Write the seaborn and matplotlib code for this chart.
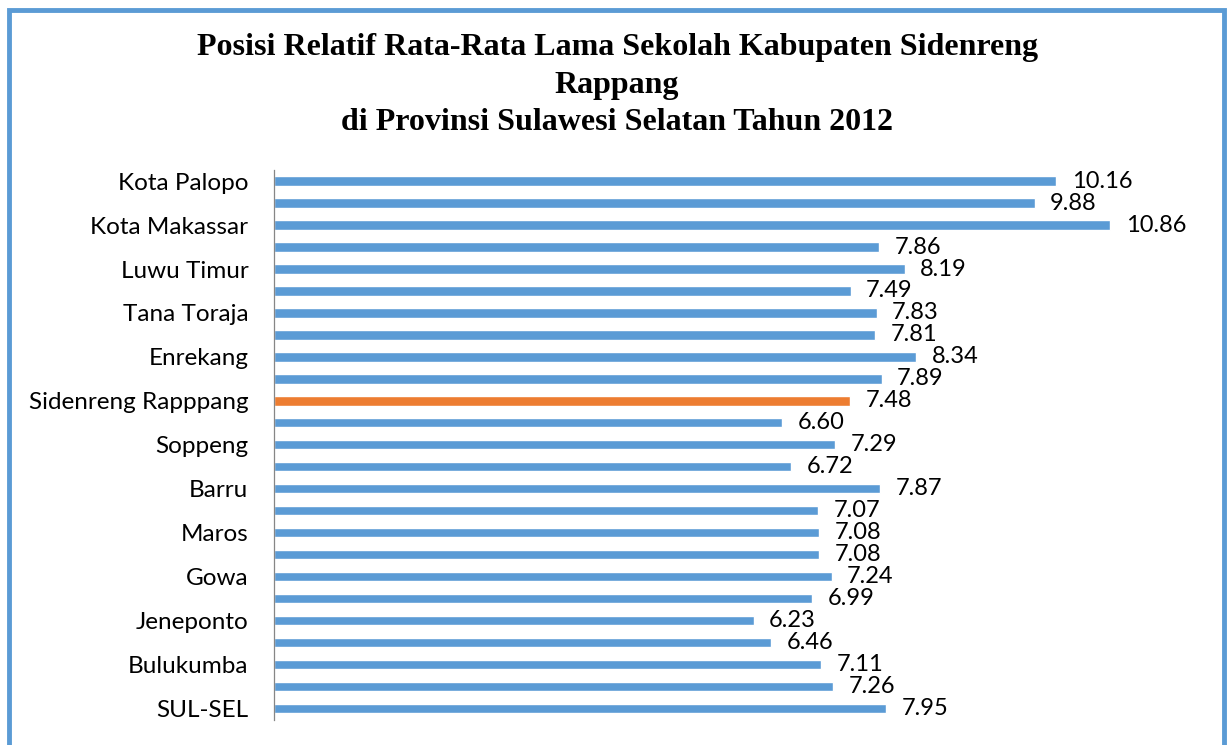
import pandas as pd
import matplotlib.pyplot as plt
import seaborn as sns
from matplotlib.patches import Rectangle

# Data (top to bottom as in the chart)
regions = ['Kota Palopo', 'Kota Pare-Pare', 'Kota Makassar', 'Toraja Utara', 'Luwu Timur',
           'Luwu Utara', 'Tana Toraja', 'Luwu', 'Enrekang', 'Pinrang',
           'Sidenreng Rapppang', 'Wajo', 'Soppeng', 'Bone', 'Barru',
           'Pangkep', 'Maros', 'Sinjai', 'Gowa', 'Takalar',
           'Jeneponto', 'Bantaeng', 'Bulukumba', 'Kepulauan Selayar', 'SUL-SEL']
rls = [10.16, 9.88, 10.86, 7.86, 8.19,
       7.49, 7.83, 7.81, 8.34, 7.89,
       7.48, 6.60, 7.29, 6.72, 7.87,
       7.07, 7.08, 7.08, 7.24, 6.99,
       6.23, 6.46, 7.11, 7.26, 7.95]
highlight = 'Sidenreng Rapppang'

df = pd.DataFrame({'region': regions, 'rls': rls})
palette = {r: ('#ED7D31' if r == highlight else '#5B9BD5') for r in regions}

sns.set_theme(style="white")
plt.rcParams['font.family'] = ['Lato', 'DejaVu Sans']

fig = plt.figure(figsize=(12.27, 7.45), dpi=100)
ax = fig.add_axes([0.2233, 0.0336, 0.7531, 0.7382])

sns.barplot(data=df, y='region', x='rls', hue='region', palette=palette,
            order=regions, hue_order=regions, orient='h', width=0.41,
            legend=False, ax=ax, saturation=1)

for c in ax.containers:
    ax.bar_label(c, fmt='%.2f', padding=11, fontsize=17, color='#000000')

ax.set_xlim(0, 12)
ax.set_ylim(len(regions) - 0.5, -0.5)
ax.set_xlabel('')
ax.set_ylabel('')
ax.set_xticks([])
ax.set_yticks(range(len(regions)))
ax.set_yticklabels([r if i % 2 == 0 else '' for i, r in enumerate(regions)], fontsize=17.5, color='#000000')
ax.tick_params(axis='y', length=0, pad=18.5)
for s in ['top', 'right', 'bottom']:
    ax.spines[s].set_visible(False)
ax.spines['left'].set_color('#868686')
ax.spines['left'].set_linewidth(0.9)

fig.text(0.503, 1 - 85 / 745,
         'Posisi Relatif Rata-Rata Lama Sekolah Kabupaten Sidenreng\nRappang\ndi Provinsi Sulawesi Selatan Tahun 2012',
         ha='center', va='center', fontsize=23, fontweight='bold', color='#000000',
         family=['Liberation Serif', 'DejaVu Serif'], linespacing=1.37)

# outer blue frame
fig.patches.append(Rectangle((8.5 / 1227, -0.05), (1223.5 - 8.5) / 1227, 1.05 - 9.5 / 745,
                             transform=fig.transFigure, fill=False,
                             edgecolor='#5B9BD5', linewidth=3.5, zorder=10))

plt.savefig('out.png', dpi=100)
